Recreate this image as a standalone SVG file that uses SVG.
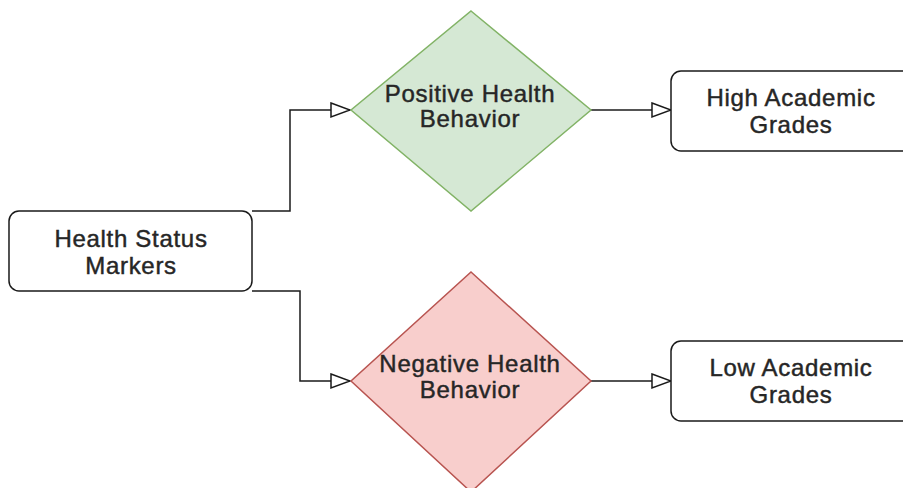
<svg xmlns="http://www.w3.org/2000/svg" width="903" height="488" viewBox="0 0 903 488">
<style>
.box{fill:#ffffff;stroke:#1a1a1a;stroke-width:1.5}
.pos{fill:#d5e8d4;stroke:#82b366;stroke-width:1.5}
.neg{fill:#f8cecc;stroke:#b85450;stroke-width:1.5}
.lbl{font-family:"Liberation Sans",Arial,sans-serif;font-size:24px;letter-spacing:0.7px;fill:#262626;stroke:#262626;stroke-width:0.45;text-anchor:middle}
.edge{fill:none;stroke:#1a1a1a;stroke-width:1.5}
</style>
<defs>
<marker id="arr" markerUnits="userSpaceOnUse" markerWidth="22" markerHeight="18" refX="19" refY="8" orient="auto" viewBox="-1 0 22 16">
<path d="M0,1 L19,8 L0,15 Z" fill="#ffffff" stroke="#1a1a1a" stroke-width="1.5"/>
</marker>
</defs>
<rect width="903" height="488" fill="#ffffff"/>
<g id="connectors">
<path class="edge" d="M252,211 H290 V110 H350" marker-end="url(#arr)"/>
<path class="edge" d="M252,291 H300 V381 H350" marker-end="url(#arr)"/>
<path class="edge" d="M590,110 H671" marker-end="url(#arr)"/>
<path class="edge" d="M590,381 H671" marker-end="url(#arr)"/>
</g>
<g id="health-status">
<rect class="box" x="9" y="211" width="243" height="80" rx="10"/>
<text class="lbl" x="131" y="247">Health Status</text>
<text class="lbl" x="131" y="274">Markers</text>
</g>
<g id="positive">
<polygon class="pos" points="471,11 591,110 471,211 351,110"/>
<text class="lbl" x="470" y="102">Positive Health</text>
<text class="lbl" x="470" y="127">Behavior</text>
</g>
<g id="negative">
<polygon class="neg" points="471,272 591,381 471,492 351,381"/>
<text class="lbl" x="470" y="372">Negative Health</text>
<text class="lbl" x="470" y="398">Behavior</text>
</g>
<g id="high">
<rect class="box" x="671" y="71" width="242" height="80" rx="10"/>
<text class="lbl" x="791" y="106">High Academic</text>
<text class="lbl" x="791" y="133">Grades</text>
</g>
<g id="low">
<rect class="box" x="671" y="341" width="242" height="80" rx="10"/>
<text class="lbl" x="791" y="376">Low Academic</text>
<text class="lbl" x="791" y="403">Grades</text>
</g>
</svg>
